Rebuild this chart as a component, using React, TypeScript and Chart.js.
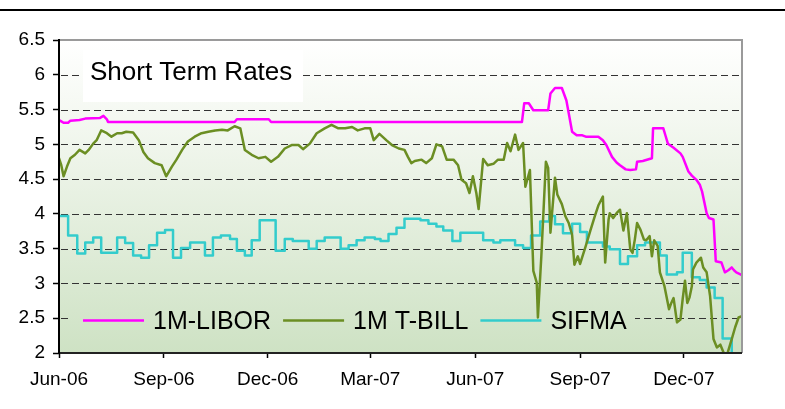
import React, { useEffect, useRef } from 'react';
import { Chart, registerables } from 'chart.js';

Chart.register(...registerables);

// Dates: x values are days since 1-Jun-2006
const startDate = '2006-06-01';
const endDate = '2008-01-21';
const tickDates = ['2006-06-01', '2006-09-01', '2006-12-01', '2007-03-01', '2007-06-01', '2007-09-01', '2007-12-01'];
const tickLabels = ['Jun-06', 'Sep-06', 'Dec-06', 'Mar-07', 'Jun-07', 'Sep-07', 'Dec-07'];
const chartTitle = 'Short Term Rates';
const yMin = 2;
const yMax = 6.5;
const yStep = 0.5;

const liborDay = [0, 2, 4, 8, 10, 18, 23, 36, 39, 42, 43, 154, 156, 184, 186, 406, 408, 412, 416, 429, 431, 435, 441, 445, 450, 454, 459, 462, 466, 473, 477, 480, 485, 489, 492, 497, 501, 506, 507, 512, 520, 521, 530, 532, 534, 539, 545, 547, 552, 555, 559, 562, 564, 568, 570, 574, 576, 581, 584, 587, 590, 592, 594, 599];
const liborRate = [5.35, 5.33, 5.31, 5.31, 5.34, 5.35, 5.37, 5.38, 5.41, 5.36, 5.32, 5.32, 5.36, 5.36, 5.32, 5.32, 5.59, 5.59, 5.49, 5.49, 5.73, 5.81, 5.81, 5.63, 5.18, 5.13, 5.13, 5.11, 5.11, 5.11, 5.06, 4.99, 4.82, 4.74, 4.70, 4.64, 4.63, 4.64, 4.75, 4.76, 4.80, 5.23, 5.23, 5.12, 5.01, 4.95, 4.87, 4.82, 4.61, 4.55, 4.49, 4.42, 4.32, 4.01, 3.94, 3.92, 3.32, 3.30, 3.16, 3.19, 3.23, 3.19, 3.16, 3.12];

const tbillDay = [0, 2, 4, 7, 10, 14, 18, 23, 26, 30, 33, 37, 42, 46, 51, 55, 59, 65, 70, 74, 78, 84, 90, 94, 99, 103, 108, 113, 119, 125, 131, 137, 143, 148, 154, 159, 163, 169, 175, 181, 186, 192, 198, 204, 210, 214, 220, 226, 233, 239, 245, 251, 257, 262, 268, 273, 276, 281, 287, 292, 298, 303, 306, 309, 312, 318, 322, 327, 331, 336, 340, 346, 350, 353, 357, 360, 363, 366, 368, 372, 376, 381, 385, 390, 393, 396, 400, 403, 407, 409, 413, 416, 419, 420, 423, 427, 429, 431, 435, 437, 441, 444, 447, 450, 452, 455, 457, 462, 466, 470, 473, 477, 479, 482, 483, 486, 489, 492, 495, 498, 501, 503, 505, 507, 510, 513, 515, 518, 520, 522, 525, 527, 531, 535, 537, 539, 542, 545, 547, 549, 551, 553, 555, 556, 559, 563, 565, 568, 571, 574, 577, 580, 583, 586, 590, 593, 596, 599];
const tbillRate = [4.80, 4.70, 4.54, 4.68, 4.80, 4.85, 4.92, 4.87, 4.92, 5.01, 5.06, 5.20, 5.16, 5.11, 5.16, 5.16, 5.18, 5.17, 5.06, 4.89, 4.80, 4.73, 4.70, 4.54, 4.68, 4.78, 4.92, 5.04, 5.11, 5.16, 5.18, 5.20, 5.21, 5.20, 5.26, 5.23, 4.92, 4.85, 4.80, 4.82, 4.75, 4.82, 4.94, 4.99, 4.99, 4.93, 5.01, 5.16, 5.23, 5.28, 5.23, 5.23, 5.25, 5.20, 5.23, 5.23, 5.06, 5.15, 5.06, 4.99, 4.94, 4.92, 4.82, 4.73, 4.76, 4.78, 4.73, 4.80, 5.00, 4.97, 4.78, 4.78, 4.70, 4.49, 4.44, 4.30, 4.54, 4.30, 4.07, 4.79, 4.70, 4.72, 4.78, 4.78, 5.02, 4.90, 5.14, 4.92, 5.02, 4.39, 4.63, 3.18, 3.01, 2.51, 3.39, 4.75, 4.66, 3.73, 4.52, 4.28, 4.14, 3.97, 3.87, 3.70, 3.27, 3.39, 3.28, 3.54, 3.76, 3.97, 4.12, 4.25, 3.30, 3.92, 4.01, 3.94, 4.01, 4.06, 3.76, 4.01, 3.49, 3.44, 3.63, 3.87, 3.77, 3.63, 3.62, 3.68, 3.39, 3.62, 3.54, 3.16, 2.96, 2.63, 2.72, 2.79, 2.44, 2.48, 2.78, 3.04, 2.72, 2.80, 2.96, 3.20, 3.30, 3.37, 3.23, 3.16, 2.82, 2.20, 2.08, 2.12, 2.00, 1.98, 2.20, 2.37, 2.51, 2.53];

const sifmaDay = [0, 8, 16, 23, 30, 37, 51, 58, 65, 72, 79, 86, 93, 100, 107, 115, 128, 135, 142, 150, 156, 163, 169, 176, 190, 198, 205, 219, 226, 233, 247, 254, 261, 268, 277, 282, 289, 296, 303, 317, 324, 331, 337, 345, 352, 372, 381, 387, 400, 407, 414, 422, 430, 435, 442, 450, 457, 463, 477, 483, 492, 499, 507, 514, 527, 533, 542, 547, 555, 562, 568, 575, 582, 590];
const sifmaRate = [3.97, 3.69, 3.43, 3.59, 3.66, 3.44, 3.66, 3.58, 3.40, 3.37, 3.55, 3.73, 3.77, 3.37, 3.51, 3.59, 3.40, 3.66, 3.69, 3.64, 3.47, 3.40, 3.62, 3.91, 3.47, 3.64, 3.61, 3.50, 3.61, 3.66, 3.50, 3.55, 3.62, 3.66, 3.64, 3.61, 3.71, 3.80, 3.93, 3.91, 3.86, 3.82, 3.76, 3.61, 3.73, 3.62, 3.59, 3.62, 3.55, 3.51, 3.69, 3.89, 3.97, 3.85, 3.72, 3.86, 3.74, 3.59, 3.53, 3.49, 3.28, 3.39, 3.55, 3.59, 3.40, 3.13, 3.16, 3.44, 3.09, 3.05, 2.94, 2.79, 2.21, 1.90];

const seriesLabels = ['1M-LIBOR', '1M T-BILL', 'SIFMA'];
const seriesColors = ['#ff00ff', '#6b8e23', '#33cccc'];

const FONT = '"Liberation Sans", Arial, Helvetica, sans-serif';
const dayOf = (d: string) => Math.round((Date.parse(d) - Date.parse(startDate)) / 86400000);
const tickDays = tickDates.map(dayOf);
const toPoints = (xs: number[], ys: number[]) => xs.map((x, i) => ({ x, y: ys[i] }));

function makeGradient(ctx: CanvasRenderingContext2D, top: number, bottom: number) {
  const g = ctx.createLinearGradient(0, top, 0, bottom);
  g.addColorStop(0, '#ffffff');
  g.addColorStop(0.25, '#f4f8f1');
  g.addColorStop(1, '#cee2c4');
  return g;
}

const decorPlugin = {
  id: 'decor',
  beforeDraw(chart: any) {
    const { ctx, chartArea: ca, width } = chart;
    ctx.save();
    ctx.fillStyle = '#ffffff';
    ctx.fillRect(0, 0, chart.width, chart.height);
    ctx.fillStyle = '#000000';
    ctx.fillRect(0, 9, width, 2);
    ctx.fillStyle = makeGradient(ctx, ca.top, ca.bottom);
    ctx.fillRect(ca.left, ca.top, ca.right - ca.left, ca.bottom - ca.top);
    ctx.restore();
  },
  beforeDatasetsDraw(chart: any) {
    const { ctx, chartArea: ca } = chart;
    const ys = chart.scales.y;
    ctx.save();
    // dashed grid lines
    ctx.strokeStyle = '#333333';
    ctx.lineWidth = 1;
    ctx.setLineDash([7, 4]);
    for (let v = yMin + yStep; v < yMax - 1e-9; v += yStep) {
      const py = Math.round(ys.getPixelForValue(v)) + 0.5;
      ctx.beginPath();
      ctx.moveTo(ca.left + 2, py);
      ctx.lineTo(ca.right, py);
      ctx.stroke();
    }
    ctx.setLineDash([]);

    // legend box
    const lgTop = 297, lgBottom = 344;
    ctx.fillStyle = makeGradient(ctx, ca.top, ca.bottom);
    ctx.fillRect(ca.left + 11, lgTop, 565, lgBottom - lgTop);
    ctx.font = '25px ' + FONT;
    ctx.textBaseline = 'alphabetic';
    ctx.textAlign = 'left';
    let x = ca.left + 24;
    const ly = 320.5;
    chart.data.datasets.forEach((ds: any) => {
      ctx.strokeStyle = ds.borderColor;
      ctx.lineWidth = 2.5;
      ctx.beginPath();
      ctx.moveTo(x, ly);
      ctx.lineTo(x + 61, ly);
      ctx.stroke();
      ctx.fillStyle = '#000000';
      ctx.fillText(ds.label, x + 70, 328.5);
      x = x + 70 + ctx.measureText(ds.label).width + 12;
    });

    // title box
    ctx.fillStyle = '#ffffff';
    ctx.fillRect(ca.left + 24, 50, 220, 52);
    ctx.fillStyle = '#000000';
    ctx.font = '26px ' + FONT;
    ctx.fillText(chartTitle, ca.left + 31, 80);
    ctx.restore();
  },
  afterDatasetsDraw(chart: any) {
    const { ctx, chartArea: ca } = chart;
    ctx.save();
    ctx.lineWidth = 2;
    ctx.strokeStyle = '#9a9a9a';
    ctx.beginPath();
    ctx.moveTo(ca.left, ca.top);
    ctx.lineTo(ca.right, ca.top);
    ctx.lineTo(ca.right, ca.bottom);
    ctx.stroke();
    ctx.strokeStyle = '#222222';
    ctx.beginPath();
    ctx.moveTo(ca.left, ca.bottom);
    ctx.lineTo(ca.right, ca.bottom);
    ctx.stroke();
    ctx.strokeStyle = '#000000';
    ctx.beginPath();
    ctx.moveTo(ca.left, ca.top - 1);
    ctx.lineTo(ca.left, ca.bottom + 1);
    ctx.stroke();
    ctx.restore();
  },
};

export default function App() {
  const ref = useRef<HTMLCanvasElement | null>(null);
  useEffect(() => {
    document.body.style.margin = '0';
    const canvas = ref.current;
    if (!canvas) return;
    const datasets = [
      { label: seriesLabels[0], data: toPoints(liborDay, liborRate), borderColor: seriesColors[0] },
      { label: seriesLabels[1], data: toPoints(tbillDay, tbillRate), borderColor: seriesColors[1] },
      { label: seriesLabels[2], data: toPoints(sifmaDay, sifmaRate), borderColor: seriesColors[2], stepped: true },
    ].map((d) => ({
      ...d,
      borderWidth: 2.5,
      pointRadius: 0,
      fill: false,
      tension: 0,
      borderJoinStyle: 'round' as const,
      borderCapStyle: 'round' as const,
    }));
    const chart = new Chart(canvas, {
      type: 'line',
      data: { datasets },
      options: {
        responsive: false,
        animation: false,
        events: [],
        layout: { padding: { left: 0, right: 43, top: 40, bottom: 0 } },
        plugins: { legend: { display: false }, title: { display: false }, tooltip: { enabled: false } },
        scales: {
          x: {
            type: 'linear',
            min: 0,
            max: dayOf(endDate),
            afterBuildTicks: (s: any) => {
              s.ticks = tickDays.map((v) => ({ value: v }));
            },
            afterFit: (s: any) => {
              s.height = 56;
            },
            ticks: {
              autoSkip: false,
              maxRotation: 0,
              minRotation: 0,
              padding: 10,
              color: '#000000',
              font: { family: FONT, size: 19 },
              callback: (v: any) => {
                const i = tickDays.indexOf(Number(v));
                return i >= 0 ? tickLabels[i] : '';
              },
            },
            grid: { drawOnChartArea: false, drawTicks: true, tickLength: 5, tickColor: '#000000', tickWidth: 1.5 },
            border: { display: false },
          },
          y: {
            min: yMin,
            max: yMax,
            afterFit: (s: any) => {
              s.width = 59;
            },
            ticks: {
              stepSize: yStep,
              autoSkip: false,
              padding: 8,
              color: '#000000',
              font: { family: FONT, size: 19 },
              callback: (v: any) => String(Math.round(Number(v) * 10) / 10),
            },
            grid: { drawOnChartArea: false, drawTicks: true, tickLength: 6, tickColor: '#000000', tickWidth: 1.5 },
            border: { display: false },
          },
        },
      },
      plugins: [decorPlugin],
    });
    return () => chart.destroy();
  }, []);
  return (
    <div style={{ position: 'fixed', left: 0, top: 0, width: 785, height: 409, background: '#ffffff' }}>
      <canvas ref={ref} width={785} height={409} style={{ display: 'block', width: 785, height: 409 }} />
    </div>
  );
}
